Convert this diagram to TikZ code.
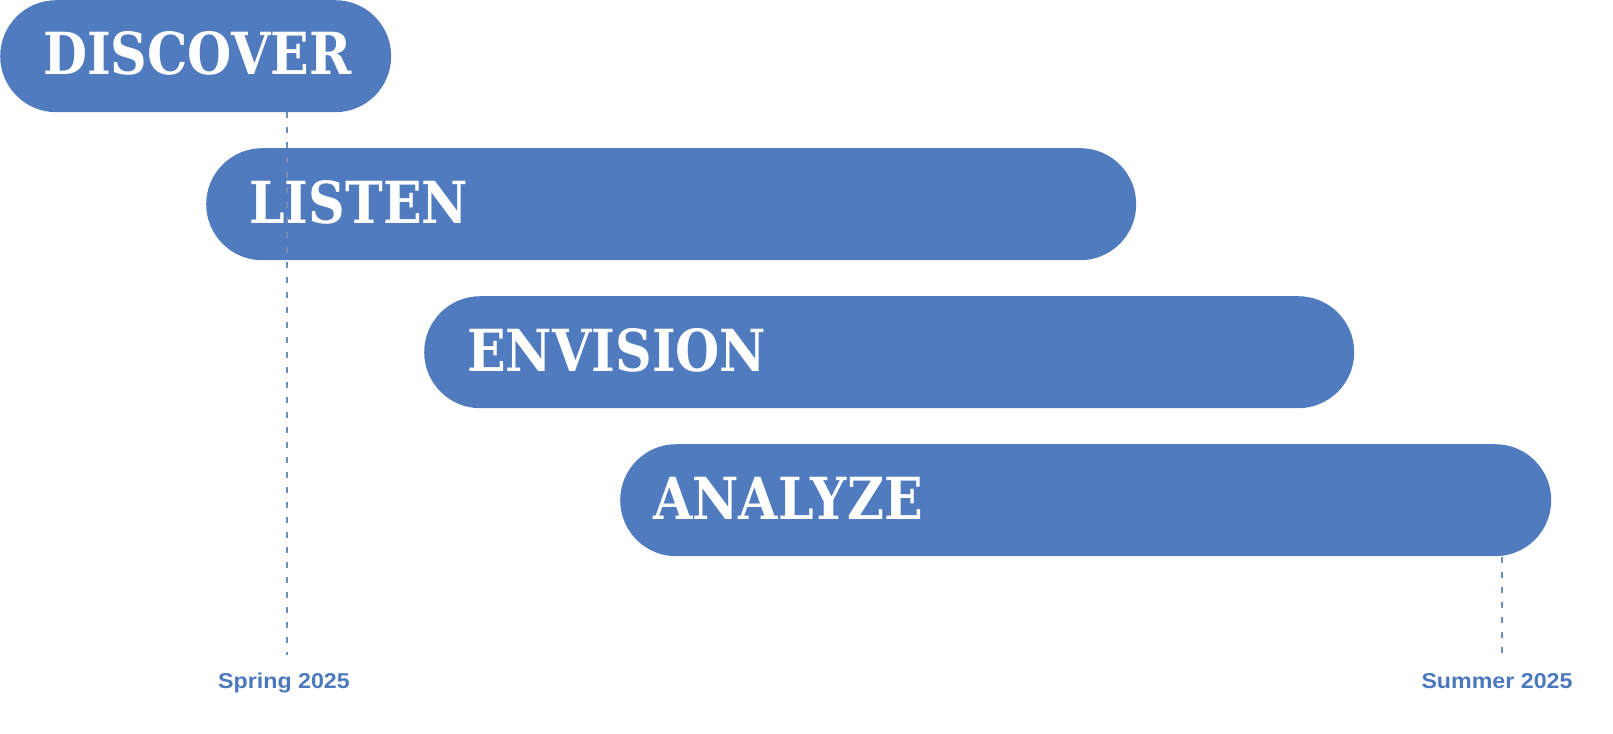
\documentclass[tikz,border=0pt]{standalone}
\usepackage{fontspec}
\newfontfamily\barfont[FakeStretch=0.875]{DejaVu Serif}
\newfontfamily\labfont[FakeStretch=1.08]{Liberation Sans}
\definecolor{barblue}{HTML}{507BBE}
\definecolor{dashblue}{HTML}{6F8FB8}
\definecolor{labblue}{HTML}{4C79BD}
\begin{document}
\begin{tikzpicture}[x=1pt,y=-1pt,
  phasebar/.style={fill=barblue,draw=none,rounded corners=56pt,minimum height=112pt,inner sep=0pt,anchor=north west},
  phasetext/.style={anchor=base west,inner sep=0pt,text=white,font=\barfont\bfseries\fontsize{58}{60}\selectfont},
  datelabel/.style={anchor=base,inner sep=0pt,text=labblue,font=\labfont\bfseries\fontsize{21.5}{24}\selectfont},
  guide/.style={draw=dashblue,line width=1.6pt,dash pattern=on 6pt off 9pt}]
\useasboundingbox (0,0) rectangle (1613,733);
\node[phasebar,minimum width=391pt] (discover) at (0,0) {};
\node[phasebar,minimum width=930pt] (listen) at (206,148) {};
\node[phasebar,minimum width=930pt] (envision) at (424,296) {};
\node[phasebar,minimum width=931pt] (analyze) at (620,444) {};
\node[phasetext] (tdiscover) at (43,75) {DISCOVER};
\node[phasetext] (tlisten) at (249,223) {LISTEN};
\node[phasetext] (tenvision) at (467,371) {ENVISION};
\node[phasetext] (tanalyze) at (653,519) {ANALYZE};
\node[datelabel] (spring) at (284,688) {Spring 2025};
\node[datelabel] (summer) at (1497,688) {Summer 2025};
\coordinate (g1top) at (287,112);
\coordinate (g1bot) at (287,655);
\coordinate (g2top) at (1502,557);
\coordinate (g2bot) at (1502,655);
\draw[guide] (g1top) -- (g1bot);
\draw[guide] (g2top) -- (g2bot);
\end{tikzpicture}
\end{document}
